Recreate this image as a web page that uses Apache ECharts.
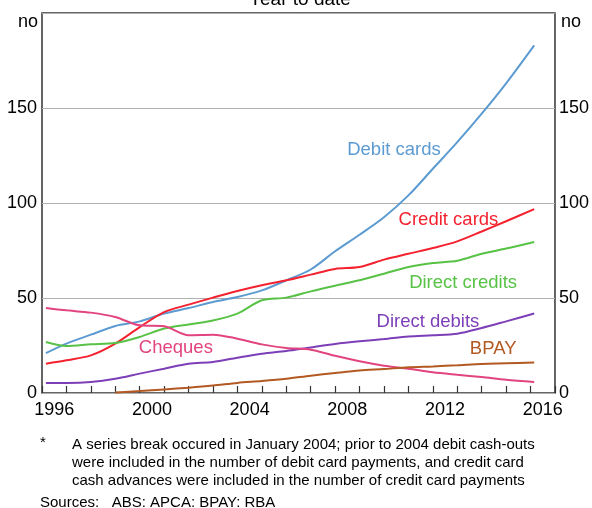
<!DOCTYPE html>
<html>
<head>
<meta charset="utf-8">
<script src="https://cdn.jsdelivr.net/npm/echarts@6/dist/echarts.min.js"></script>
<style>
  body { margin: 0; background: #fff; }
  #chart { width: 592px; height: 508px; }
</style>
</head>
<body>
<div id="chart"></div>
<script>
// year positions of the observations (first and last are part-years)
const years = [1996.16, 1997, 1998, 1999, 2000, 2001, 2002, 2003, 2004, 2005, 2006,
  2007, 2008, 2009, 2010, 2011, 2012, 2013, 2014, 2015, 2016.15];

const debitCards = [21, 26, 30.7, 35.3, 37.7, 41.8, 44.7, 47.9, 50.5, 54, 59.3,
  65, 74.6, 83.3, 92.5, 104, 118, 132, 147, 163, 183];
const creditCards = [15.4, 17.2, 19.8, 26, 34.7, 42.6, 46.5, 50.2, 53.7, 56.7, 59.3,
  62.3, 65.3, 66.3, 70.2, 73.3, 76.3, 79.8, 85, 90.4, 96.8];
const directCredits = [26.8, 24.7, 25.6, 26.3, 29.5, 33.9, 36.1, 38.2, 41.8, 48.8, 50.2,
  53.5, 56.5, 59.3, 62.8, 66.3, 68.4, 69.6, 73.3, 76, 79.5];
const directDebits = [5.3, 5.3, 5.8, 7.5, 10.2, 12.8, 15.4, 16.3, 18.6, 20.7, 22.1,
  24, 25.8, 27.2, 28.4, 29.8, 30.4, 31.2, 34.2, 37.7, 41.8];
const cheques = [44.7, 43.5, 42.3, 40, 35.6, 35.1, 30.4, 30.7, 28.6, 25.6, 23.7,
  22.8, 19.6, 16.7, 14.4, 12.8, 10.9, 9.6, 8.4, 7, 5.8];
const bpay = [null, null, null, 0.3, 1.05, 1.9, 2.8, 3.9, 5.3, 6.3, 7.5,
  9.1, 10.5, 11.8, 12.6, 13.5, 14, 14.6, 15.3, 15.6, 16];

const yTicks = [0, 50, 100, 150];
const xLabelYears = [1996, 2000, 2004, 2008, 2012, 2016];

const FONT = '"Liberation Sans", Arial, sans-serif';

// name, values, colour, label anchor (year, value)
const seriesDefs = [
  ['Debit cards', debitCards, '#5c9bd1', [2010.41, 128]],
  ['Credit cards', creditCards, '#f4222f', [2012.64, 91]],
  ['Direct credits', directCredits, '#58c246', [2013.24, 57.7]],
  ['Direct debits', directDebits, '#7d3fb8', [2011.8, 37.5]],
  ['Cheques', cheques, '#e2447f', [2001.48, 23.5]],
  ['BPAY', bpay, '#b35a22', [2014.47, 23]]
];

const series = seriesDefs.map(([name, vals, color, anchor]) => ({
  name: name,
  type: 'line',
  xAxisIndex: 0,
  yAxisIndex: 0,
  smooth: 0.3,
  showSymbol: false,
  connectNulls: false,
  lineStyle: { color: color, width: 2 },
  itemStyle: { color: color },
  data: years.map((y, i) => [y, vals[i]]),
  markPoint: {
    symbol: 'circle',
    symbolSize: 0,
    silent: true,
    label: {
      show: true,
      position: 'inside',
      formatter: name,
      color: color,
      fontFamily: FONT,
      fontSize: 18.5
    },
    data: [{ coord: anchor }]
  }
}));

const chart = echarts.init(document.getElementById('chart'));

const yLabel = {
  fontFamily: FONT,
  fontSize: 18,
  color: '#000',
  formatter: v => (yTicks.indexOf(v) >= 0 ? String(v) : '')
};

const footLines = [
  'A series break occured in January 2004; prior to 2004 debit cash-outs',
  'were included in the number of debit card payments, and credit card',
  'cash advances were included in the number of credit card payments'
];

const footText = footLines.map((t, i) => ({
  type: 'text', x: 72, y: 445 + i * 18,
  style: { text: t, fontFamily: FONT, fontSize: 15, fill: '#000',
    textVerticalAlign: 'middle' }
}));

chart.setOption({
  animation: false,
  grid: {
    left: 42, right: 34, top: 13, bottom: 115,
    show: true,
    borderColor: '#333',
    borderWidth: 1.5
  },
  graphic: [
    { type: 'text', x: 300, y: 0,
      style: { text: 'Year to date', fontFamily: FONT, fontSize: 19, fill: '#000',
        textAlign: 'center', textVerticalAlign: 'middle' } },
    { type: 'text', x: 38, y: 22,
      style: { text: 'no', fontFamily: FONT, fontSize: 18, fill: '#000',
        textAlign: 'right', textVerticalAlign: 'middle' } },
    { type: 'text', x: 561, y: 22,
      style: { text: 'no', fontFamily: FONT, fontSize: 18, fill: '#000',
        textAlign: 'left', textVerticalAlign: 'middle' } },
    { type: 'text', x: 40, y: 443,
      style: { text: '*', fontFamily: FONT, fontSize: 15, fill: '#000',
        textVerticalAlign: 'middle' } },
    ...footText,
    { type: 'text', x: 40, y: 503,
      style: { text: 'Sources:   ABS: APCA: BPAY: RBA', fontFamily: FONT, fontSize: 15,
        fill: '#000', textVerticalAlign: 'middle' } }
  ],
  xAxis: [
    {
      type: 'value',
      position: 'bottom',
      min: 1996, max: 2017, interval: 1,
      axisLine: { show: false },
      axisTick: { show: true, inside: true, length: 7, lineStyle: { color: '#333', width: 1.2 } },
      axisLabel: { show: false },
      splitLine: { show: false }
    },
    {
      type: 'value',
      position: 'bottom',
      min: 1996, max: 2017, interval: 0.5,
      axisLine: { show: false },
      axisTick: { show: false },
      splitLine: { show: false },
      axisLabel: {
        fontFamily: FONT, fontSize: 18, color: '#000', margin: 8,
        showMinLabel: false, showMaxLabel: false,
        formatter: v => {
          const yr = v - 0.5;
          return xLabelYears.indexOf(yr) >= 0 ? String(yr) : '';
        }
      }
    }
  ],
  yAxis: [
    {
      type: 'value',
      position: 'left',
      min: 0, max: 200, interval: 50,
      axisLine: { show: false },
      axisTick: { show: false },
      axisLabel: Object.assign({ margin: 5 }, yLabel),
      splitLine: { show: true, lineStyle: { color: '#b0b0b0', width: 1 } }
    },
    {
      type: 'value',
      position: 'right',
      min: 0, max: 200, interval: 50,
      axisLine: { show: false },
      axisTick: { show: false },
      axisLabel: Object.assign({ margin: 4 }, yLabel),
      splitLine: { show: false }
    }
  ],
  series: series
});
</script>
</body>
</html>
